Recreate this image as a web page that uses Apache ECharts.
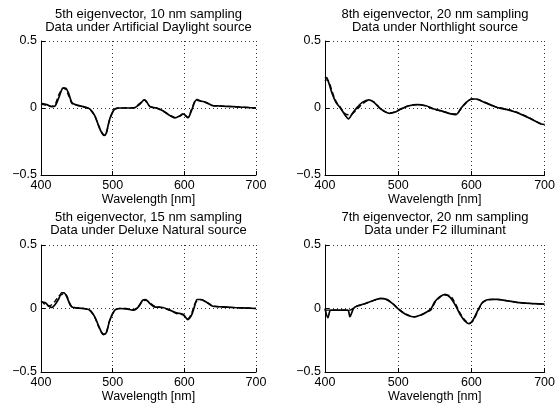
<!DOCTYPE html>
<html>
<head>
<meta charset="utf-8">
<script src="https://cdn.jsdelivr.net/npm/echarts@6/dist/echarts.min.js"></script>
<style>
html,body{margin:0;padding:0;background:#fff;}
#main{width:558px;height:405px;}
</style>
</head>
<body>
<div id="main"></div>
<script>
// wavelengths and eigenvector values
var wl1 = [400,408,415,420,425,431,434,438,443,448,459,468,475,482,488,491,496,503,510,529,538,544,547,552,561,570,580,587,594,598,602,605,610,617,621,630,640,649,668,700];
var solid1 = [0.035,0.025,0.01,0.017,0.08,0.148,0.148,0.116,0.042,0.025,0.01,-0.007,-0.057,-0.155,-0.205,-0.188,-0.08,-0.007,0,0,0.03,0.06,0.05,0.01,0,-0.02,-0.057,-0.074,-0.057,-0.044,-0.057,-0.074,-0.02,0.06,0.054,0.042,0.017,0.015,0.01,0];
var dashed1 = [0.03,0.02,0.012,0.03,0.1,0.15,0.14,0.1,0.035,0.022,0.01,-0.01,-0.06,-0.15,-0.2,-0.19,-0.085,-0.01,0,0.002,0.035,0.062,0.045,0.012,0,-0.022,-0.055,-0.07,-0.06,-0.05,-0.06,-0.07,-0.01,0.065,0.056,0.04,0.018,0.015,0.01,0];

var wl2 = [400,402,405,410,415,421,428,432,437,444,451,460,467,476,488,495,504,515,526,538,549,561,572,579,586,593,600,606,618,629,638,649,661,672,684,695,700];
var solid2 = [0.22,0.227,0.19,0.104,0.042,0,-0.057,-0.081,-0.044,0.005,0.042,0.06,0.042,-0.007,-0.04,-0.032,-0.007,0.017,0.025,0.017,-0.007,-0.025,-0.044,-0.049,0,0.042,0.067,0.067,0.042,0.017,0,-0.012,-0.032,-0.057,-0.089,-0.119,-0.123];
var dashed2 = [0.2,0.21,0.2,0.12,0.05,0.005,-0.045,-0.05,-0.045,-0.01,0.03,0.058,0.045,-0.005,-0.038,-0.03,-0.005,0.018,0.025,0.015,-0.01,-0.025,-0.042,-0.045,-0.005,0.04,0.065,0.066,0.043,0.018,0.002,-0.01,-0.03,-0.055,-0.087,-0.117,-0.122];

var wl3 = [400,406,411,415,420,425,429,432,436,441,445,459,468,475,481,487,491,496,503,510,519,529,536,542,546,552,558,570,580,589,598,605,610,614,618,623,630,640,653,668,700];
var solid3 = [0.053,0.045,0.018,0.008,0.034,0.079,0.124,0.124,0.092,0.026,0.008,0,-0.013,-0.066,-0.145,-0.205,-0.192,-0.092,-0.013,0,-0.003,-0.013,0.013,0.066,0.071,0.039,0.013,0.008,-0.013,-0.034,-0.045,-0.087,-0.053,0.013,0.071,0.071,0.053,0.018,0.013,0.008,0];
var dashed3 = [0.06,0.03,0.02,0.03,0.06,0.1,0.11,0.12,0.1,0.03,0.01,0,-0.015,-0.07,-0.15,-0.2,-0.19,-0.09,-0.015,0,0,-0.01,0.02,0.06,0.065,0.045,0.02,0.005,-0.015,-0.04,-0.05,-0.08,-0.04,0.03,0.06,0.07,0.055,0.02,0.012,0.008,0];

var wl4 = [400,404,408,431,434,439,444,453,465,476,483,492,501,510,522,530,539,545,550,557,564,571,578,584,591,597,602,609,616,626,635,649,662,680,700];
var solid4 = [0,-0.072,-0.013,-0.013,-0.065,0,0.019,0.035,0.061,0.08,0.074,0.04,-0.008,-0.045,-0.066,-0.053,-0.027,0,0.053,0.093,0.112,0.088,0.027,-0.04,-0.098,-0.12,-0.093,-0.013,0.053,0.072,0.072,0.061,0.048,0.04,0.035];
var dashed4 = [-0.013,-0.013,-0.013,-0.013,-0.013,0.003,0.02,0.035,0.06,0.078,0.075,0.042,-0.005,-0.043,-0.065,-0.055,-0.03,-0.01,0.045,0.09,0.105,0.1,0.04,-0.03,-0.09,-0.115,-0.1,-0.02,0.05,0.07,0.072,0.06,0.048,0.04,0.035];

var titles = [
    ['5th eigenvector, 10 nm sampling', 'Data under Artificial Daylight source'],
    ['8th eigenvector, 20 nm sampling', 'Data under Northlight source'],
    ['5th eigenvector, 15 nm sampling', 'Data under Deluxe Natural source'],
    ['7th eigenvector, 20 nm sampling', 'Data under F2 illuminant']
];
var xTicks = [400, 500, 600, 700];
var yTicks = [-0.5, 0, 0.5];

var FONT = 'Liberation Sans, Arial, Helvetica, sans-serif';
var boxes = [
    {left: 41, top: 41, width: 215, height: 134},
    {left: 325, top: 41, width: 220, height: 134},
    {left: 41, top: 245, width: 215, height: 127},
    {left: 325, top: 245, width: 220, height: 127}
];
var waves = [wl1, wl2, wl3, wl4];
var solids = [solid1, solid2, solid3, solid4];
var dashes = [dashed1, dashed2, dashed3, dashed4];

function zip(xs, ys) {
    return xs.map(function (x, i) { return [x, ys[i]]; });
}

var grid = [], xAxis = [], yAxis = [], series = [], graphic = [];
boxes.forEach(function (b, i) {
    grid.push({left: b.left, top: b.top, width: b.width, height: b.height, containLabel: false});
    xAxis.push({
        type: 'value', gridIndex: i, min: xTicks[0], max: xTicks[xTicks.length - 1], interval: 100,
        name: 'Wavelength [nm]', nameLocation: 'middle', nameGap: 16,
        nameTextStyle: {color: '#000', fontSize: 12.5, fontFamily: FONT},
        axisLine: {show: true, onZero: false, lineStyle: {color: '#000', width: 1}},
        axisTick: {show: true, inside: true, length: 4, lineStyle: {color: '#000'}},
        axisLabel: {color: '#000', fontSize: 12.5, fontFamily: FONT, margin: 4},
        splitLine: {show: true, lineStyle: {color: '#333', type: [1, 3], width: 1}}
    });
    yAxis.push({
        type: 'value', gridIndex: i, min: yTicks[0], max: yTicks[yTicks.length - 1], interval: 0.5,
        axisLine: {show: true, onZero: false, lineStyle: {color: '#000', width: 1}},
        axisTick: {show: true, inside: true, length: 4, lineStyle: {color: '#000'}},
        axisLabel: {
            color: '#000', fontSize: 12.5, fontFamily: FONT, margin: 4,
            formatter: function (v) { return v < 0 ? '\u2212' + Math.abs(v) : String(v); }
        },
        splitLine: {show: true, lineStyle: {color: '#333', type: [1, 3], width: 1}}
    });
    series.push({
        type: 'line', xAxisIndex: i, yAxisIndex: i, data: zip(waves[i], dashes[i]),
        showSymbol: false, smooth: 0.3, silent: true,
        lineStyle: {color: '#000', width: 1.4, type: [5, 3]}
    });
    series.push({
        type: 'line', xAxisIndex: i, yAxisIndex: i, data: zip(waves[i], solids[i]),
        showSymbol: false, smooth: 0.3, silent: true,
        lineStyle: {color: '#000', width: 1.7}
    });
    var cx = b.left + b.width / 2;
    var ty = i < 2 ? 14 : 217;
    graphic.push({type: 'text', x: cx, y: ty, style: {text: titles[i][0], textAlign: 'center', textVerticalAlign: 'middle', font: '13px ' + FONT, fill: '#000'}});
    graphic.push({type: 'text', x: cx, y: ty + 13, style: {text: titles[i][1], textAlign: 'center', textVerticalAlign: 'middle', font: '13px ' + FONT, fill: '#000'}});
});

var myChart = echarts.init(document.getElementById('main'));
myChart.setOption({
    animation: false,
    backgroundColor: '#fff',
    grid: grid,
    xAxis: xAxis,
    yAxis: yAxis,
    series: series,
    graphic: graphic
});
</script>
</body>
</html>
